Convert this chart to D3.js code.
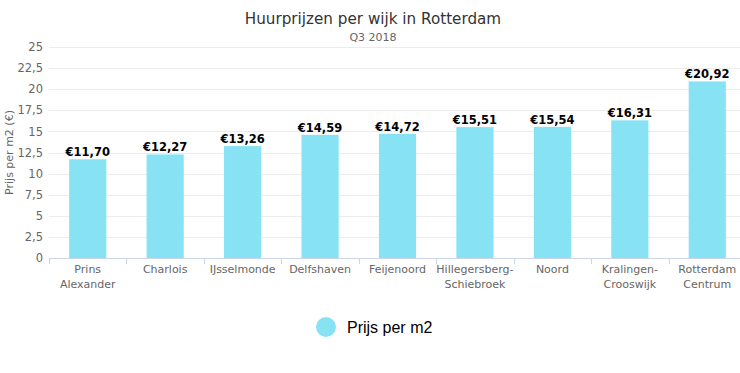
<!DOCTYPE html>
<html>
<head>
<meta charset="utf-8">
<script src="https://cdn.jsdelivr.net/npm/d3@7"></script>
<style>
  body { margin: 0; background: #fff; overflow: hidden; }
  svg { display: block; font-family: "DejaVu Sans", sans-serif; }
</style>
</head>
<body>
<div id="chart"></div>
<script>
// wijken en prijzen (Q3 2018)
var wijken = [
  ["Prins", "Alexander"], ["Charlois"], ["IJsselmonde"], ["Delfshaven"], ["Feijenoord"],
  ["Hillegersberg-", "Schiebroek"], ["Noord"], ["Kralingen-", "Crooswijk"], ["Rotterdam", "Centrum"]
];
var prijzen = [11.70, 12.27, 13.26, 14.59, 14.72, 15.51, 15.54, 16.31, 20.92];
var yTicks = [0, 2.5, 5, 7.5, 10, 12.5, 15, 17.5, 20, 22.5, 25];

var W = 740, H = 373;
var margin = {top: 47, right: -6, bottom: 115, left: 49},
    width = W - margin.left - margin.right,
    height = H - margin.top - margin.bottom;

var fmt = function(d) { return String(d).replace(".", ","); };

var svg = d3.select("#chart").append("svg")
    .attr("width", W)
    .attr("height", H);

svg.append("text")
    .attr("x", 373).attr("y", 24)
    .attr("text-anchor", "middle")
    .style("font-size", "15.2px")
    .style("fill", "#333")
    .text("Huurprijzen per wijk in Rotterdam");

svg.append("text")
    .attr("x", 373).attr("y", 41)
    .attr("text-anchor", "middle")
    .style("font-size", "11px")
    .style("fill", "#666")
    .text("Q3 2018");

var g = svg.append("g")
    .attr("transform", "translate(" + margin.left + "," + margin.top + ")");

var x = d3.scaleBand()
    .domain(d3.range(wijken.length))
    .range([0, width])
    .paddingInner(0.52)
    .paddingOuter(0.26);

var y = d3.scaleLinear().domain([0, 25]).range([height, 0]);

// gridlines
g.selectAll(".grid")
    .data(yTicks)
    .enter().append("line")
    .attr("x1", 0).attr("x2", width)
    .attr("y1", function(d) { return Math.round(y(d)) + 0.5; })
    .attr("y2", function(d) { return Math.round(y(d)) + 0.5; })
    .style("stroke", "#ececec");

// y axis labels
var yAxis = d3.axisLeft(y).tickValues(yTicks).tickFormat(fmt).tickSize(0).tickPadding(6);
var ya = g.append("g").call(yAxis);
ya.select(".domain").remove();
ya.selectAll("text").style("font-size", "11.5px").style("fill", "#666").style("font-family", "DejaVu Sans, sans-serif");

svg.append("text")
    .attr("transform", "translate(13," + (margin.top + height / 2) + ") rotate(-90)")
    .attr("text-anchor", "middle")
    .style("font-size", "11px")
    .style("fill", "#666")
    .text("Prijs per m2 (€)");

// bars
g.selectAll(".bar")
    .data(prijzen)
    .enter().append("rect")
    .attr("x", function(d, i) { return x(i); })
    .attr("width", x.bandwidth())
    .attr("y", function(d) { return y(d); })
    .attr("height", function(d) { return height - y(d); })
    .style("fill", "#87e3f3");

g.selectAll(".lbl")
    .data(prijzen)
    .enter().append("text")
    .attr("x", function(d, i) { return x(i) + x.bandwidth() / 2; })
    .attr("y", function(d) { return y(d) - 3; })
    .attr("text-anchor", "middle")
    .style("font-size", "11.5px")
    .style("font-weight", "bold")
    .style("fill", "#000")
    .text(function(d) { return "€" + d.toFixed(2).replace(".", ","); });

// x axis
var xa = g.append("g").attr("transform", "translate(0," + height + ")");
xa.append("line")
    .attr("x1", 0).attr("x2", width)
    .attr("y1", 0.5).attr("y2", 0.5)
    .style("stroke", "#ccd6eb");
xa.selectAll(".tick")
    .data(d3.range(wijken.length + 1))
    .enter().append("line")
    .attr("x1", function(i) { return Math.round(i * width / wijken.length) + 0.5; })
    .attr("x2", function(i) { return Math.round(i * width / wijken.length) + 0.5; })
    .attr("y1", 0).attr("y2", 6)
    .style("stroke", "#ccd6eb");

var xl = xa.selectAll(".xl")
    .data(wijken)
    .enter().append("text")
    .attr("text-anchor", "middle")
    .style("font-size", "11px")
    .style("fill", "#666")
    .attr("transform", function(d, i) { return "translate(" + (x(i) + x.bandwidth() / 2) + ",15)"; });
xl.selectAll("tspan")
    .data(function(d) { return d; })
    .enter().append("tspan")
    .attr("x", 0)
    .attr("dy", function(d, i) { return i === 0 ? 0 : 15; })
    .text(function(d) { return d; });

// legend
var leg = svg.append("g").attr("transform", "translate(326,327)");
leg.append("circle").attr("r", 10).style("fill", "#87e3f3");
leg.append("text")
    .attr("x", 21).attr("y", 6)
    .style("font-family", "Liberation Sans, Arial, sans-serif")
    .style("font-size", "16px")
    .style("fill", "#000")
    .text("Prijs per m2");
</script>
</body>
</html>
